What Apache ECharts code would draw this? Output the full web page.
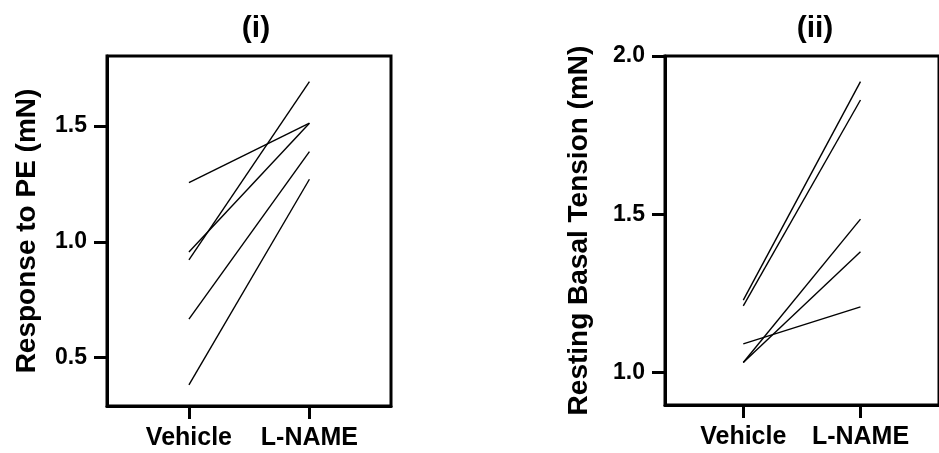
<!DOCTYPE html>
<html>
<head>
<meta charset="utf-8">
<script src="https://cdn.jsdelivr.net/npm/echarts@6/dist/echarts.min.js"></script>
<style>
html,body{margin:0;padding:0;background:#fff;}
#chart{width:939px;height:453px;}
</style>
</head>
<body>
<div id="chart"></div>
<script>
const categories = ['Vehicle', 'L-NAME'];
const panelTitles = ['(i)', '(ii)'];
const yNames = ['Response to PE (mN)', 'Resting Basal Tension (mN)'];
const peVehicle = [1.255, 0.956, 0.922, 0.666, 0.382];
const peLName = [1.512, 1.512, 1.691, 1.389, 1.270];
const basalVehicle = [1.229, 1.211, 1.032, 1.032, 1.091];
const basalLName = [1.919, 1.861, 1.485, 1.382, 1.208];
const yTicksPE = [0.5, 1.0, 1.5];
const yTicksBasal = [1.0, 1.5, 2.0];

const FONT = "'Liberation Sans', Arial, sans-serif";
const TICK = '#000';
const chart = echarts.init(document.getElementById('chart'), null, {renderer: 'canvas'});

function xAxisCfg(gi, min, max) {
  return {
    type: 'value', gridIndex: gi, min: min, max: max,
    splitLine: {show: false},
    axisLine: {show: true, onZero: false, lineStyle: {color: '#000', width: 3}},
    axisTick: {show: true, customValues: [0, 1], length: 13, lineStyle: {color: TICK, width: 3}},
    axisLabel: {show: true, customValues: [0, 1], margin: 20,
      formatter: v => categories[Math.round(v)],
      color: '#000', fontFamily: FONT, fontWeight: 'bold', fontSize: 25}
  };
}
function yAxisCfg(gi, min, max, ticks, name, gap) {
  return {
    type: 'value', gridIndex: gi, min: min, max: max,
    splitLine: {show: false},
    axisLine: {show: true, onZero: false, lineStyle: {color: '#000', width: 3}},
    axisTick: {show: true, customValues: ticks, length: 13, lineStyle: {color: TICK, width: 3}},
    axisLabel: {show: true, customValues: ticks, margin: 20,
      formatter: v => v.toFixed(1),
      color: '#000', fontFamily: FONT, fontWeight: 'bold', fontSize: 23},
    name: name, nameLocation: 'middle', nameRotate: 90, nameGap: gap,
    nameTextStyle: {color: '#000', fontFamily: FONT, fontWeight: 'bold', fontSize: 28}
  };
}

const series = [];
function addLines(gi, veh, ln) {
  for (let i = 0; i < veh.length; i++) {
    series.push({
      type: 'line', xAxisIndex: gi, yAxisIndex: gi,
      data: [[0, veh[i]], [1, ln[i]]],
      symbol: 'none', silent: true, animation: false,
      lineStyle: {color: '#000', width: 1.4}
    });
  }
}
addLines(0, peVehicle, peLName);
addLines(1, basalVehicle, basalLName);

chart.setOption({
  animation: false,
  backgroundColor: '#fff',
  title: [
    {text: panelTitles[0], left: 251, top: 9, textAlign: 'center',
     textStyle: {fontFamily: FONT, fontWeight: 'bold', fontSize: 30, color: '#000'}},
    {text: panelTitles[1], left: 810, top: 9, textAlign: 'center',
     textStyle: {fontFamily: FONT, fontWeight: 'bold', fontSize: 30, color: '#000'}}
  ],
  grid: [
    {left: 107, top: 56, width: 284, height: 350, show: true, borderColor: '#000', borderWidth: 3, containLabel: false},
    {left: 665, top: 56, width: 284, height: 349, show: true, borderColor: '#000', borderWidth: 3, containLabel: false}
  ],
  xAxis: [xAxisCfg(0, -0.68, 1.677), xAxisCfg(1, -0.668, 1.67)],
  yAxis: [
    yAxisCfg(0, 0.291, 1.802, yTicksPE, yNames[0], 66),
    yAxisCfg(1, 0.898, 2.0, yTicksBasal, yNames[1], 72)
  ],
  series: series
});
</script>
</body>
</html>
